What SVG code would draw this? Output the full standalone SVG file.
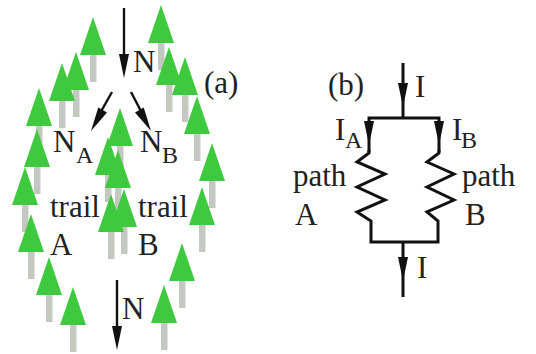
<svg xmlns="http://www.w3.org/2000/svg" width="536" height="354" viewBox="0 0 536 354">
  <style>
    .txt { font-family: "Liberation Serif", "Times New Roman", serif; font-size: 31px; fill: #222; }
    .sub { font-size: 24px; }
    .crown { fill: #3fc93f; }
    .trunk { fill: #c3c9c0; }
    .wire { fill: none; stroke: #111; stroke-width: 3; stroke-linejoin: miter; }
    .shaft { fill: none; stroke: #111; stroke-width: 2.4; }
    .head { fill: #111; }
  </style>
  <defs>
    <!-- tree with apex at origin: crown triangle plus trunk -->
    <g id="tree">
      <rect class="trunk" x="-3" y="38" width="6.5" height="27"/>
      <polygon class="crown" points="0,0 -13,38 13,38"/>
    </g>
    <!-- arrowhead pointing down, tip at origin -->
    <polygon id="head" class="head" points="0,0 -5,-24 5,-24"/>
  </defs>
  <rect width="536" height="354" fill="#fff"/>

  <!-- (a) forest: trees, back to front -->
  <g id="forest">
    <use href="#tree" x="161" y="5"/>
    <use href="#tree" x="93" y="17"/>
    <use href="#tree" x="169" y="47"/>
    <use href="#tree" x="76" y="52"/>
    <use href="#tree" x="185" y="57"/>
    <use href="#tree" x="62" y="63"/>
    <use href="#tree" x="39" y="88"/>
    <use href="#tree" x="197" y="96"/>
    <use href="#tree" x="120" y="108"/>
    <use href="#tree" x="37" y="129"/>
    <use href="#tree" x="108" y="137"/>
    <use href="#tree" x="212" y="143"/>
    <use href="#tree" x="118" y="150"/>
    <use href="#tree" x="25" y="167"/>
    <use href="#tree" x="202" y="187"/>
    <use href="#tree" x="124" y="189"/>
    <use href="#tree" x="111" y="194"/>
    <use href="#tree" x="31" y="214"/>
    <use href="#tree" x="182" y="243"/>
    <use href="#tree" x="49" y="257"/>
    <use href="#tree" x="164" y="285"/>
    <use href="#tree" x="73" y="287"/>
  </g>

  <!-- connectors: flow arrows and circuit wiring -->
  <g id="connectors">
    <!-- (a) hikers flow -->
    <line class="shaft" x1="124" y1="8" x2="124" y2="60"/>
    <use href="#head" transform="translate(124,78)"/>
    <line class="shaft" x1="112" y1="92" x2="99" y2="115"/>
    <use href="#head" transform="translate(91,131) rotate(29)"/>
    <line class="shaft" x1="131" y1="92" x2="143" y2="115"/>
    <use href="#head" transform="translate(151,131) rotate(-29)"/>
    <line class="shaft" x1="117" y1="280" x2="117" y2="333"/>
    <use href="#head" transform="translate(117,350)"/>

    <!-- (b) parallel resistors -->
    <line class="wire" x1="403" y1="63" x2="403" y2="118"/>
    <use href="#head" transform="translate(403,107)"/>
    <polyline class="wire" points="369,152 369,118 439,118 439,152"/>
    <use href="#head" transform="translate(369,145)"/>
    <use href="#head" transform="translate(439,145)"/>
    <polyline class="wire" points="369,150 369,153 357,162 385,174 357,187 385,200 357,212 371,221 371,242 438,242 438,221 427,212 454,200 427,187 454,174 427,162 439,153 439,150"/>
    <line class="wire" x1="403" y1="242" x2="403" y2="297"/>
    <use href="#head" transform="translate(403,281)"/>
  </g>

  <!-- labels -->
  <g id="labels">
    <text class="txt" x="133" y="72">N</text>
    <text class="txt" x="204" y="93">(a)</text>
    <text class="txt" x="53" y="152">N<tspan class="sub" x="76" y="163">A</tspan></text>
    <text class="txt" x="140" y="152">N<tspan class="sub" x="162" y="163">B</tspan></text>
    <text class="txt" x="50" y="217">trail</text>
    <text class="txt" x="138" y="217">trail</text>
    <text class="txt" x="50" y="255">A</text>
    <text class="txt" x="138" y="255">B</text>
    <text class="txt" x="122" y="319">N</text>

    <text class="txt" x="328" y="95">(b)</text>
    <text class="txt" x="415" y="97">I</text>
    <text class="txt" x="335" y="140">I<tspan class="sub" x="345" y="148">A</tspan></text>
    <text class="txt" x="452" y="140">I<tspan class="sub" x="461" y="148">B</tspan></text>
    <text class="txt" x="293" y="186">path</text>
    <text class="txt" x="295" y="225">A</text>
    <text class="txt" x="462" y="186">path</text>
    <text class="txt" x="465" y="225">B</text>
    <text class="txt" x="417" y="278">I</text>
  </g>
</svg>
